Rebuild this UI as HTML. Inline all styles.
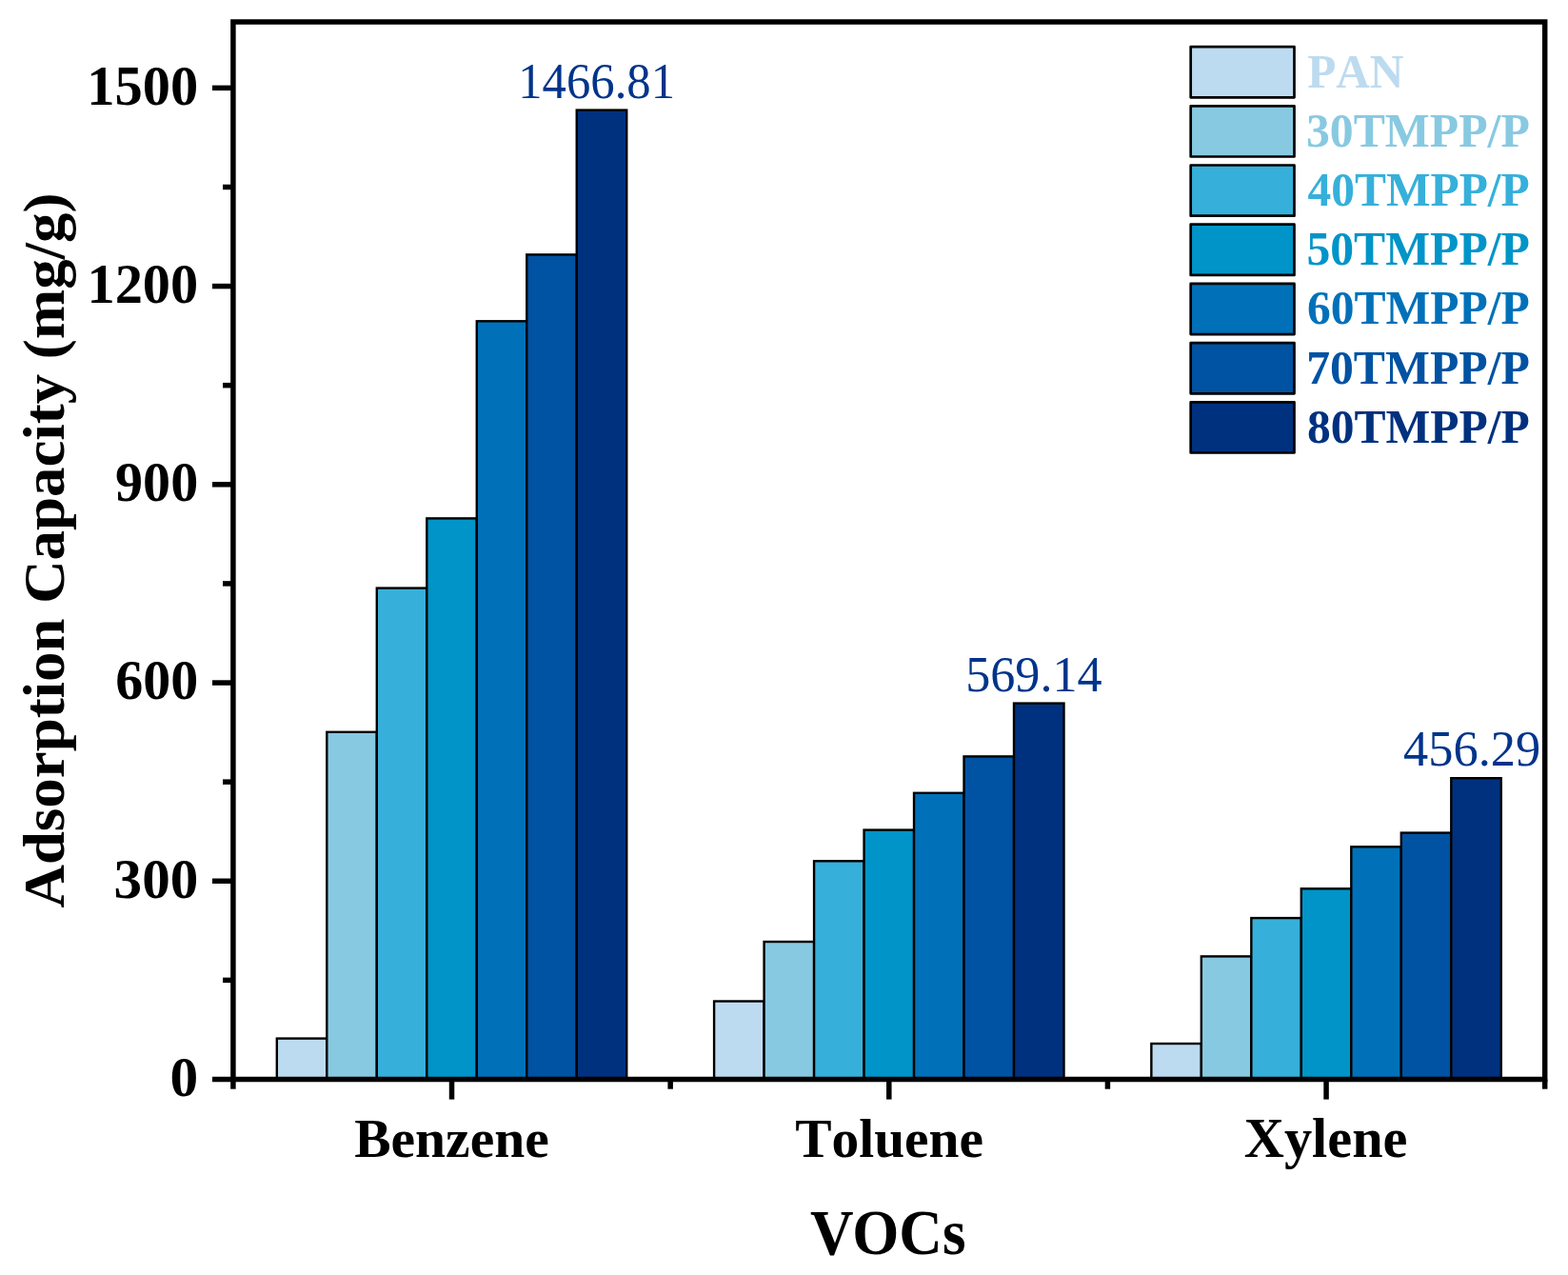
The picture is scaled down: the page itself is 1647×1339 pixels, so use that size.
<!DOCTYPE html><html><head><meta charset="utf-8"><title>Adsorption Capacity</title><style>html,body{margin:0;padding:0;background:#fff;width:1647px;height:1339px;overflow:hidden}svg{display:block}text{font-family:"Liberation Serif","Times New Roman",serif}</style></head><body>
<svg width="1647" height="1339" viewBox="0 0 1647 1339">
<rect x="0" y="0" width="1647" height="1339" fill="#fff"/>
<rect x="290.83" y="1090.60" width="52.49" height="42.90" fill="#BDDBF0" stroke="#000" stroke-width="2.4"/>
<rect x="343.31" y="768.80" width="52.49" height="364.70" fill="#88C9E2" stroke="#000" stroke-width="2.4"/>
<rect x="395.80" y="617.60" width="52.49" height="515.90" fill="#36B0DA" stroke="#000" stroke-width="2.4"/>
<rect x="448.29" y="544.40" width="52.49" height="589.10" fill="#0094C8" stroke="#000" stroke-width="2.4"/>
<rect x="500.78" y="337.30" width="52.49" height="796.20" fill="#0071B9" stroke="#000" stroke-width="2.4"/>
<rect x="553.26" y="267.40" width="52.49" height="866.10" fill="#0052A2" stroke="#000" stroke-width="2.4"/>
<rect x="605.75" y="115.60" width="52.49" height="1017.90" fill="#00317F" stroke="#000" stroke-width="2.4"/>
<rect x="750.09" y="1051.50" width="52.49" height="82.00" fill="#BDDBF0" stroke="#000" stroke-width="2.4"/>
<rect x="802.58" y="989.00" width="52.49" height="144.50" fill="#88C9E2" stroke="#000" stroke-width="2.4"/>
<rect x="855.07" y="904.30" width="52.49" height="229.20" fill="#36B0DA" stroke="#000" stroke-width="2.4"/>
<rect x="907.56" y="871.60" width="52.49" height="261.90" fill="#0094C8" stroke="#000" stroke-width="2.4"/>
<rect x="960.04" y="832.80" width="52.49" height="300.70" fill="#0071B9" stroke="#000" stroke-width="2.4"/>
<rect x="1012.53" y="794.40" width="52.49" height="339.10" fill="#0052A2" stroke="#000" stroke-width="2.4"/>
<rect x="1065.02" y="738.60" width="52.49" height="394.90" fill="#00317F" stroke="#000" stroke-width="2.4"/>
<rect x="1209.36" y="1096.00" width="52.49" height="37.50" fill="#BDDBF0" stroke="#000" stroke-width="2.4"/>
<rect x="1261.85" y="1004.40" width="52.49" height="129.10" fill="#88C9E2" stroke="#000" stroke-width="2.4"/>
<rect x="1314.34" y="964.10" width="52.49" height="169.40" fill="#36B0DA" stroke="#000" stroke-width="2.4"/>
<rect x="1366.82" y="933.30" width="52.49" height="200.20" fill="#0094C8" stroke="#000" stroke-width="2.4"/>
<rect x="1419.31" y="889.30" width="52.49" height="244.20" fill="#0071B9" stroke="#000" stroke-width="2.4"/>
<rect x="1471.80" y="874.60" width="52.49" height="258.90" fill="#0052A2" stroke="#000" stroke-width="2.4"/>
<rect x="1524.29" y="817.20" width="52.49" height="316.30" fill="#00317F" stroke="#000" stroke-width="2.4"/>
<g stroke="#000" stroke-width="5.5" fill="none" stroke-linecap="butt">
<path d="M244.90 22.90 H1622.70 V1133.50 H244.90 Z" stroke-linejoin="miter"/>
<line x1="223.00" y1="1133.50" x2="244.90" y2="1133.50"/>
<line x1="234.00" y1="1029.38" x2="244.90" y2="1029.38"/>
<line x1="223.00" y1="925.27" x2="244.90" y2="925.27"/>
<line x1="234.00" y1="821.15" x2="244.90" y2="821.15"/>
<line x1="223.00" y1="717.04" x2="244.90" y2="717.04"/>
<line x1="234.00" y1="612.92" x2="244.90" y2="612.92"/>
<line x1="223.00" y1="508.81" x2="244.90" y2="508.81"/>
<line x1="234.00" y1="404.69" x2="244.90" y2="404.69"/>
<line x1="223.00" y1="300.58" x2="244.90" y2="300.58"/>
<line x1="234.00" y1="196.46" x2="244.90" y2="196.46"/>
<line x1="223.00" y1="92.35" x2="244.90" y2="92.35"/>
<line x1="474.53" y1="1133.50" x2="474.53" y2="1154.60"/>
<line x1="933.80" y1="1133.50" x2="933.80" y2="1154.60"/>
<line x1="1393.07" y1="1133.50" x2="1393.07" y2="1154.60"/>
<line x1="244.90" y1="1133.50" x2="244.90" y2="1143.70"/>
<line x1="704.17" y1="1133.50" x2="704.17" y2="1143.70"/>
<line x1="1163.43" y1="1133.50" x2="1163.43" y2="1143.70"/>
<line x1="1622.70" y1="1133.50" x2="1622.70" y2="1143.70"/>
</g>
<rect x="1250.7" y="49.10" width="108.8" height="53.2" fill="#BDDBF0" stroke="#000" stroke-width="2.7" stroke-linejoin="round"/>
<rect x="1250.7" y="111.30" width="108.8" height="53.2" fill="#88C9E2" stroke="#000" stroke-width="2.7" stroke-linejoin="round"/>
<rect x="1250.7" y="173.50" width="108.8" height="53.2" fill="#36B0DA" stroke="#000" stroke-width="2.7" stroke-linejoin="round"/>
<rect x="1250.7" y="235.70" width="108.8" height="53.2" fill="#0094C8" stroke="#000" stroke-width="2.7" stroke-linejoin="round"/>
<rect x="1250.7" y="297.90" width="108.8" height="53.2" fill="#0071B9" stroke="#000" stroke-width="2.7" stroke-linejoin="round"/>
<rect x="1250.7" y="360.10" width="108.8" height="53.2" fill="#0052A2" stroke="#000" stroke-width="2.7" stroke-linejoin="round"/>
<rect x="1250.7" y="422.30" width="108.8" height="53.2" fill="#00317F" stroke="#000" stroke-width="2.7" stroke-linejoin="round"/>
<text transform="translate(178.61 1150.78) scale(1.0238 1.0310)" font-size="58" font-weight="bold" fill="#000">0</text>
<text transform="translate(119.60 942.52) scale(1.0194 1.0301)" font-size="58" font-weight="bold" fill="#000">300</text>
<text transform="translate(121.20 734.30) scale(1.0006 1.0307)" font-size="58" font-weight="bold" fill="#000">600</text>
<text transform="translate(121.07 526.07) scale(1.0021 1.0306)" font-size="58" font-weight="bold" fill="#000">900</text>
<text transform="translate(91.48 317.86) scale(1.0068 1.0310)" font-size="58" font-weight="bold" fill="#000">1200</text>
<text transform="translate(91.32 109.62) scale(1.0082 1.0308)" font-size="58" font-weight="bold" fill="#000">1500</text>
<text transform="translate(372.14 1214.61) scale(0.9928 0.9951)" font-size="58" font-weight="bold" fill="#000">Benzene</text>
<text transform="translate(835.16 1215.01) scale(0.9909 0.9953)" font-size="58" font-weight="bold" style="font-kerning:none" fill="#000">Toluene</text>
<text transform="translate(1306.80 1215.43) scale(1.0056 1.0058)" font-size="58" font-weight="bold" fill="#000">Xylene</text>
<text transform="translate(851.00 1316.97) scale(0.9558 1.0250)" font-size="66" font-weight="bold" fill="#000">VOCs</text>
<text transform="translate(66.56 953.50) scale(0.9672 0.9827) rotate(-90)" font-size="64" font-weight="bold" fill="#000">Adsorption Capacity (mg/g)</text>
<text transform="translate(544.24 103.47) scale(0.9752 1.0191)" font-size="52" fill="#00348A">1466.81</text>
<text transform="translate(1014.13 725.69) scale(1.0041 1.0055)" font-size="52" fill="#00348A">569.14</text>
<text transform="translate(1474.08 804.48) scale(1.0083 1.0195)" font-size="52" fill="#00348A">456.29</text>
<text transform="translate(1373.18 91.70) scale(0.9899 1.0061)" font-size="49.8" font-weight="bold" style="font-kerning:none" fill="#BDDBF0">PAN</text>
<text transform="translate(1371.91 153.70) scale(0.9993 0.9971)" font-size="49.8" font-weight="bold" fill="#88C9E2">30TMPP/P</text>
<text transform="translate(1373.54 215.90) scale(0.9924 0.9971)" font-size="49.8" font-weight="bold" fill="#36B0DA">40TMPP/P</text>
<text transform="translate(1372.48 278.10) scale(0.9970 0.9971)" font-size="49.8" font-weight="bold" fill="#0094C8">50TMPP/P</text>
<text transform="translate(1373.00 340.30) scale(0.9948 0.9971)" font-size="49.8" font-weight="bold" fill="#0071B9">60TMPP/P</text>
<text transform="translate(1372.17 402.50) scale(0.9983 0.9971)" font-size="49.8" font-weight="bold" fill="#0052A2">70TMPP/P</text>
<text transform="translate(1373.01 464.70) scale(0.9948 0.9971)" font-size="49.8" font-weight="bold" fill="#00317F">80TMPP/P</text>
</svg></body></html>
